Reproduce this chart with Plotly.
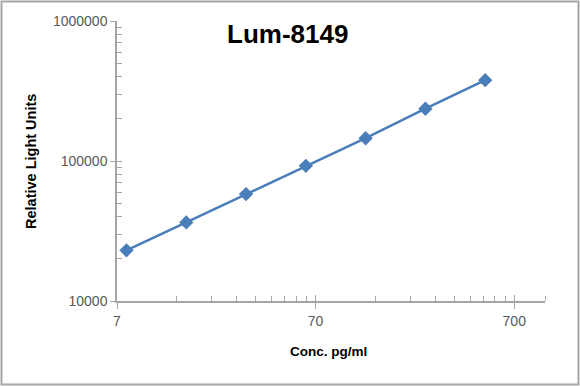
import plotly.graph_objects as go

# Data
conc = [7.8125, 15.625, 31.25, 62.5, 125, 250, 500]
rlu = [23000, 36400, 58000, 92300, 145400, 236200, 378000]

x_major = [7, 70, 700]
x_major_text = ["7", "70", "700"]
x_minor = [14, 21, 28, 35, 42, 49, 56, 63, 140, 210, 280, 350, 420, 490, 560, 630, 1000]
y_major = [10000, 100000, 1000000]
y_major_text = ["10000", "100000", "1000000"]
y_minor = [20000, 30000, 40000, 50000, 60000, 70000, 80000, 90000,
           200000, 300000, 400000, 500000, 600000, 700000, 800000, 900000]

W, H = 580, 386
L, R, T, B = 117, 35, 21, 85
pw, ph = W - L - R, H - T - B

def px(xp):
    return (xp - L) / pw

def py(yp):
    return (H - B - yp) / ph

FONT = "Liberation Sans, Arial, sans-serif"
AX = "#A6A6A6"
BLUE = "#4A7EBB"
TICKC = "#595959"

fig = go.Figure()
fig.add_trace(go.Scatter(
    x=conc, y=rlu, mode="lines+markers",
    line=dict(color=BLUE, width=2.5),
    marker=dict(symbol="diamond", size=11, color=BLUE),
    showlegend=False,
))
# invisible trace for overlay axes (crossing major ticks)
fig.add_trace(go.Scatter(x=[conc[0]], y=[rlu[0]], xaxis="x2", yaxis="y2",
                         mode="markers", marker=dict(opacity=0), showlegend=False,
                         hoverinfo="skip"))

xr = [0.84509804, 3.0]
yr = [4.0, 6.0]

fig.update_layout(
    width=W, height=H,
    margin=dict(l=L, r=R, t=T, b=B),
    paper_bgcolor="white", plot_bgcolor="white",
    xaxis=dict(type="log", range=xr, showgrid=False, zeroline=False,
               showline=True, linecolor=AX, linewidth=1.5,
               tickmode="array", tickvals=x_major, ticktext=x_major_text,
               ticks="outside", ticklen=6, tickcolor=AX, tickwidth=1.2,
               tickfont=dict(family=FONT, size=14, color=TICKC),
               minor=dict(tickmode="array", tickvals=x_minor, ticks="inside",
                          ticklen=5, tickcolor=AX, tickwidth=1.2, showgrid=False)),
    yaxis=dict(type="log", range=yr, showgrid=False, zeroline=False,
               showline=True, linecolor=AX, linewidth=1.5,
               tickmode="array", tickvals=y_major, ticktext=y_major_text,
               ticks="outside", ticklen=5, tickcolor=AX, tickwidth=1.2,
               tickfont=dict(family=FONT, size=14, color=TICKC),
               minor=dict(tickmode="array", tickvals=y_minor, ticks="inside",
                          ticklen=5, tickcolor=AX, tickwidth=1.2, showgrid=False)),
    xaxis2=dict(type="log", range=xr, overlaying="x", showgrid=False, zeroline=False,
                showline=False, tickmode="array", tickvals=x_major, ticks="inside",
                ticklen=6, tickcolor=AX, tickwidth=1.2, showticklabels=False),
    yaxis2=dict(type="log", range=yr, overlaying="y", showgrid=False, zeroline=False,
                showline=False, tickmode="array", tickvals=y_major, ticks="inside",
                ticklen=5, tickcolor=AX, tickwidth=1.2, showticklabels=False),
    annotations=[
        dict(text="<b>Lum-8149</b>", xref="paper", yref="paper", x=px(287.5), y=py(34),
             xanchor="center", yanchor="middle", showarrow=False,
             font=dict(family=FONT, size=26, color="black")),
        dict(text="<b>Conc. pg/ml</b>", xref="paper", yref="paper", x=px(328.5), y=py(351),
             xanchor="center", yanchor="middle", showarrow=False,
             font=dict(family=FONT, size=13.5, color="black")),
        dict(text="<b>Relative Light Units</b>", xref="paper", yref="paper", x=px(31), y=py(162),
             xanchor="center", yanchor="middle", textangle=-90, showarrow=False,
             font=dict(family=FONT, size=14.5, color="black")),
    ],
    shapes=[
        dict(type="rect", xref="paper", yref="paper",
             x0=px(1.5), x1=px(578.5), y0=py(384.5), y1=py(1.5),
             line=dict(color="#A6A6A6", width=2), fillcolor="rgba(0,0,0,0)", layer="below"),
    ],
)

fig.write_html("out.html")
